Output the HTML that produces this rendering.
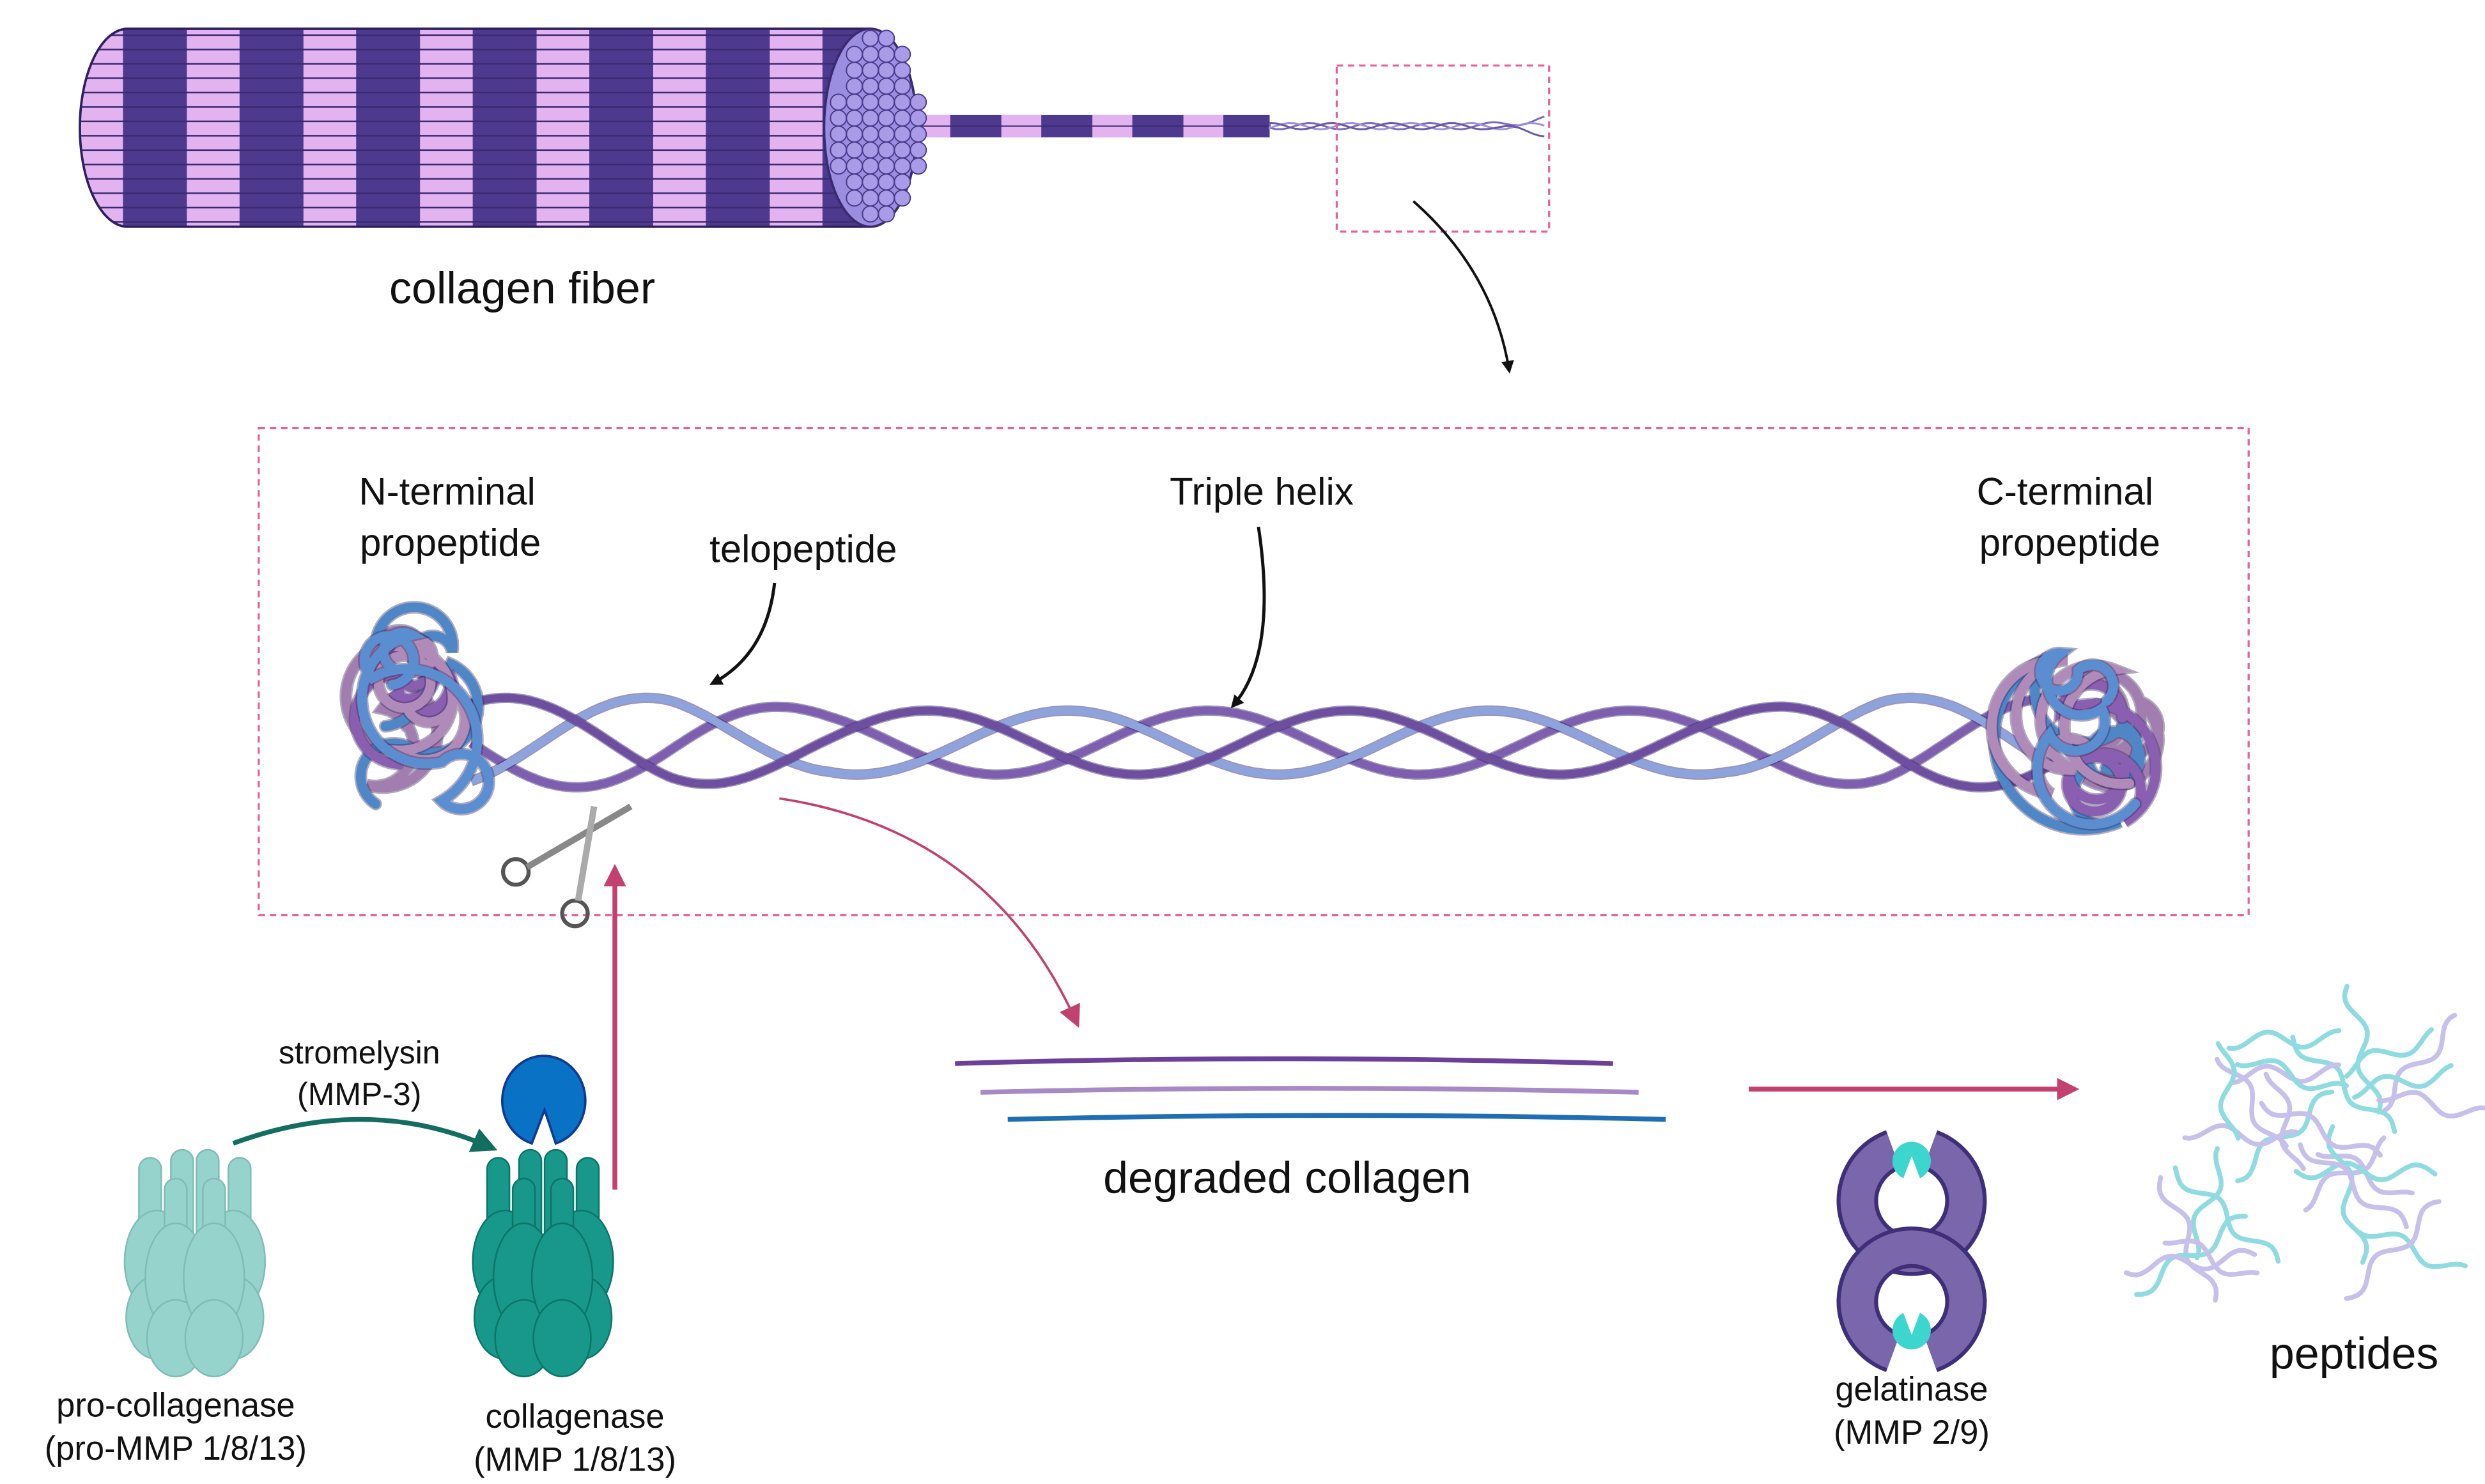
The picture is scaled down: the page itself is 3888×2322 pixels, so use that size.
<!DOCTYPE html>
<html><head><meta charset="utf-8"><style>
html,body{margin:0;padding:0;background:#fff}
svg{display:block}
text{font-family:"Liberation Sans",sans-serif;fill:#111}
</style></head><body>
<svg id="s" width="3888" height="2322" viewBox="0 0 1556 929.3" preserveAspectRatio="none" xmlns="http://www.w3.org/2000/svg">
<defs>
<marker id="ab" markerWidth="8" markerHeight="8" refX="6" refY="4" orient="auto" markerUnits="userSpaceOnUse"><path d="M0,0 L8,4 L0,8 z" fill="#111"/></marker>
<marker id="ap" markerWidth="14" markerHeight="14" refX="10" refY="7" orient="auto" markerUnits="userSpaceOnUse"><path d="M0,0 L14,7 L0,14 z" fill="#c2416f"/></marker>
<marker id="ag" markerWidth="16" markerHeight="16" refX="10" refY="8" orient="auto" markerUnits="userSpaceOnUse"><path d="M0,0 L16,8 L0,16 z" fill="#136d60"/></marker>
<clipPath id="fc"><path d="M80,18 L545,18 L545,142 L80,142 A30,62 0 0 1 80,18 z"/></clipPath>
</defs>
<g id="fiber"></g>
<rect x="837" y="41" width="133" height="104" fill="none" stroke="#e8609a" stroke-width="1.3" stroke-dasharray="4,3"/>
<path d="M885,126 Q935,170 945,232" fill="none" stroke="#111" stroke-width="1.6" marker-end="url(#ab)"/>
<text x="327" y="190" font-size="28" text-anchor="middle">collagen fiber</text>
<rect x="162" y="268" width="1246" height="305" fill="none" stroke="#e8609a" stroke-width="1.3" stroke-dasharray="4,3"/>
<text x="280" y="316" font-size="24" text-anchor="middle">N-terminal</text>
<text x="282" y="348" font-size="24" text-anchor="middle">propeptide</text>
<text x="503" y="352" font-size="24" text-anchor="middle">telopeptide</text>
<text x="790" y="316" font-size="24" text-anchor="middle">Triple helix</text>
<text x="1293" y="316" font-size="24" text-anchor="middle">C-terminal</text>
<text x="1296" y="348" font-size="24" text-anchor="middle">propeptide</text>
<path d="M485,365 Q480,410 446,428" fill="none" stroke="#111" stroke-width="2" marker-end="url(#ab)"/>
<path d="M788,330 Q800,410 772,442" fill="none" stroke="#111" stroke-width="2" marker-end="url(#ab)"/>
<g id="helix"></g>
<g id="blobs"></g>
<g stroke="#555" stroke-width="2.5" fill="none">
<circle cx="323" cy="546" r="8"/><circle cx="360" cy="572" r="8"/>
<path d="M330,543 L395,505" stroke="#888" stroke-width="4"/><path d="M362,564 L372,505" stroke="#aaa" stroke-width="4"/>
</g>
<path d="M385,745 L385,545" stroke="#c2416f" stroke-width="3" fill="none" marker-end="url(#ap)"/>
<path d="M488,500 Q620,520 674,640" stroke="#c2416f" stroke-width="1.5" fill="none" marker-end="url(#ap)"/>
<path d="M1095,682 L1298,682" stroke="#c2416f" stroke-width="3" fill="none" marker-end="url(#ap)"/>
<path d="M598,666 Q800,660 1010,666" stroke="#6c3f98" stroke-width="3" fill="none"/>
<path d="M614,684 Q820,679 1026,684" stroke="#a789c4" stroke-width="3" fill="none"/>
<path d="M631,701 Q840,696 1043,701" stroke="#1f6db3" stroke-width="3" fill="none"/>
<text x="806" y="747" font-size="28" text-anchor="middle">degraded collagen</text>
<g id="pep" fill="none" stroke-width="3" stroke-linecap="round"></g>
<text x="1474" y="857" font-size="28" text-anchor="middle">peptides</text>
<g>
<path d="M1185.4,720 A34,34 0 1 0 1208.6,720" fill="none" stroke="#3e2f78" stroke-width="26"/>
<path d="M1185.4,720 A34,34 0 1 0 1208.6,720" fill="none" stroke="#7a66ab" stroke-width="21"/>
<path d="M1185.4,847 A34,34 0 1 1 1208.6,847" fill="none" stroke="#3e2f78" stroke-width="26"/>
<path d="M1185.4,847 A34,34 0 1 1 1208.6,847" fill="none" stroke="#7a66ab" stroke-width="21"/>
<circle cx="1197" cy="727" r="12" fill="#3dd6cf"/><path d="M1191,740 L1197,724 L1203,740z" fill="#fff"/>
<circle cx="1197" cy="833" r="12" fill="#3dd6cf"/><path d="M1191,820 L1197,836 L1203,820z" fill="#fff"/>
</g>
<text x="1197" y="877" font-size="21" text-anchor="middle">gelatinase</text>
<text x="1197" y="904" font-size="21" text-anchor="middle">(MMP 2/9)</text>
<text x="225" y="666" font-size="20" text-anchor="middle">stromelysin</text>
<text x="225" y="692" font-size="20" text-anchor="middle">(MMP-3)</text>
<path d="M146,716 Q230,685 306,718" stroke="#136d60" stroke-width="3" fill="none" marker-end="url(#ag)"/>
<path d="M333,716 L341,695 L348,716 A26,28 0 1 0 333,716 Z" fill="#0a72c4" stroke="#123a90" stroke-width="1.5"/>
<g id="enz1"></g><g id="enz2"></g>
<text x="110" y="887" font-size="21" text-anchor="middle">pro-collagenase</text>
<text x="110" y="914" font-size="21" text-anchor="middle">(pro-MMP 1/8/13)</text>
<text x="360" y="894" font-size="21" text-anchor="middle">collagenase</text>
<text x="360" y="921" font-size="21" text-anchor="middle">(MMP 1/8/13)</text>
</svg>
<script>
var NS="http://www.w3.org/2000/svg";
function el(p,t,a){var e=document.createElementNS(NS,t);for(var k in a)e.setAttribute(k,a[k]);p.appendChild(e);return e;}
var f=document.getElementById('fiber');
var g=el(f,'g',{'clip-path':'url(#fc)'});
el(g,'rect',{x:40,y:18,width:510,height:124,fill:'#e3b3f0'});
for(var x=40;x<545;x+=73){el(g,'rect',{x:x+37,y:18,width:40,height:124,fill:'#4d3a8e'});}
for(var y=22;y<142;y+=9){el(g,'line',{x1:40,y1:y,x2:545,y2:y,stroke:'#3a2a70','stroke-width':1});}
el(f,'path',{d:"M80,18 L545,18 M80,142 L545,142 M80,18 A30,62 0 0 0 80,142",stroke:'#2e2060','stroke-width':1.5,fill:'none'});
var tf=el(f,'g',{});
el(tf,'rect',{x:530,y:72,width:265,height:14,fill:'#4d3a8e'});
for(var x=570;x<790;x+=57)el(tf,'rect',{x:x,y:72,width:25,height:14,fill:'#e3b3f0'});
el(tf,'line',{x1:530,y1:79,x2:795,y2:79,stroke:'#3a2a70','stroke-width':0.8});
el(f,'ellipse',{cx:545,cy:80,rx:29,ry:62,fill:'#9b8ddf',stroke:'#3a2a70','stroke-width':1.5});
for(var yy=24;yy<140;yy+=10)for(var xx=520;xx<572;xx+=10){var dx=(xx-545)/29,dy=(yy-80)/62;if(dx*dx+dy*dy<0.9)el(f,'circle',{cx:xx+((yy/10)%2?5:0),cy:yy,r:5,fill:'#a99be8',stroke:'#4a3a8a','stroke-width':0.8});}
['#7a68b8','#9e90d8','#6a58a8'].forEach(function(c,i){var d='M795,79';for(var x=795;x<=970;x+=4){d+=' L'+x+','+(79+(x>930?(x-930)*0.12*(i-1):0)+2*Math.sin(x/6+i*2));}el(f,'path',{d:d,stroke:c,'stroke-width':1.2,fill:'none'});});
var h=document.getElementById('helix');
var cols=['#7d5eaf','#8ea3dc','#6e4e9f'];
for(var i=0;i<3;i++){var d='';for(var x=295;x<=1290;x+=3){var w=Math.min(1,Math.max(0,(x-420)/100))*Math.min(1,Math.max(0,(1180-x)/100));var amp=28-8*w;var y=465+amp*Math.sin((x-295)/42+i*2.1);d+=(x==295?'M':' L')+x+','+y.toFixed(1);}el(h,'path',{d:d,fill:'none',stroke:'#3a2a70','stroke-width':6.5,'stroke-opacity':0.5});el(h,'path',{d:d,fill:'none',stroke:cols[i],'stroke-width':5});}
var b=document.getElementById('blobs');
function blob(cx,cy,seed){var bc=['#a27eb0','#4f86c6','#8a5eb0','#b08ab8','#5a8ed0'];var r=seed;function rnd(){r=(r*9301+49297)%233280;return r/233280;}
for(var k=0;k<5;k++){var px=cx+rnd()*40-20,py=cy+rnd()*80-40;var d='M'+px.toFixed(1)+','+py.toFixed(1);
for(var j=0;j<5;j++){var rr=8+rnd()*10;var nx=cx+rnd()*60-30,ny=cy+rnd()*110-55;d+=' A'+rr+','+rr+' 0 1 '+(j%2)+' '+nx.toFixed(1)+','+ny.toFixed(1);}
el(b,'path',{d:d,fill:'none',stroke:'#3a2a60','stroke-width':8,'stroke-opacity':0.4,'stroke-linecap':'round'});el(b,'path',{d:d,fill:'none',stroke:bc[k],'stroke-width':6,'stroke-linecap':'round'});}}
blob(255,450,7);blob(1310,462,31);
var p=document.getElementById('pep');var r=17;function rn(){r=(r*9301+49297)%233280;return r/233280;}
for(var k=0;k<28;k++){var x0=1365+rn()*165,y0=645+rn()*150,a=rn()*6.28,L=60+rn()*30;var d='';for(var t=-L/2;t<=L/2;t+=3){var px=x0+Math.cos(a)*t-Math.sin(a)*5*Math.sin(t/7),py=y0+Math.sin(a)*t+Math.cos(a)*5*Math.sin(t/7);d+=(d?' L':'M')+px.toFixed(1)+','+py.toFixed(1);}el(p,'path',{d:d,stroke:k%2?'#c6c0ea':'#8fdbe0'});}
function enz(id,cx,fill,st){var e=document.getElementById(id);
[[-28,725],[28,725],[-8,720],[8,720]].forEach(function(q){el(e,'rect',{x:cx+q[0]-7,y:q[1],width:14,height:60,rx:7,fill:fill,stroke:st,'stroke-width':1});});
[[-24],[24]].forEach(function(q){el(e,'ellipse',{cx:cx+q[0],cy:790,rx:20,ry:32,fill:fill,stroke:st,'stroke-width':1});el(e,'ellipse',{cx:cx+q[0],cy:825,rx:19,ry:26,fill:fill,stroke:st,'stroke-width':1});});
[[-12],[12]].forEach(function(q){el(e,'rect',{x:cx+q[0]-7,y:738,width:14,height:60,rx:7,fill:fill,stroke:st,'stroke-width':1});el(e,'ellipse',{cx:cx+q[0],cy:800,rx:19,ry:34,fill:fill,stroke:st,'stroke-width':1});el(e,'ellipse',{cx:cx+q[0],cy:838,rx:18,ry:24,fill:fill,stroke:st,'stroke-width':1});});}
enz('enz1',122,'#97d3cd','#7fbcb6');enz('enz2',340,'#17988a','#0c7468');
</script>
</body></html>
